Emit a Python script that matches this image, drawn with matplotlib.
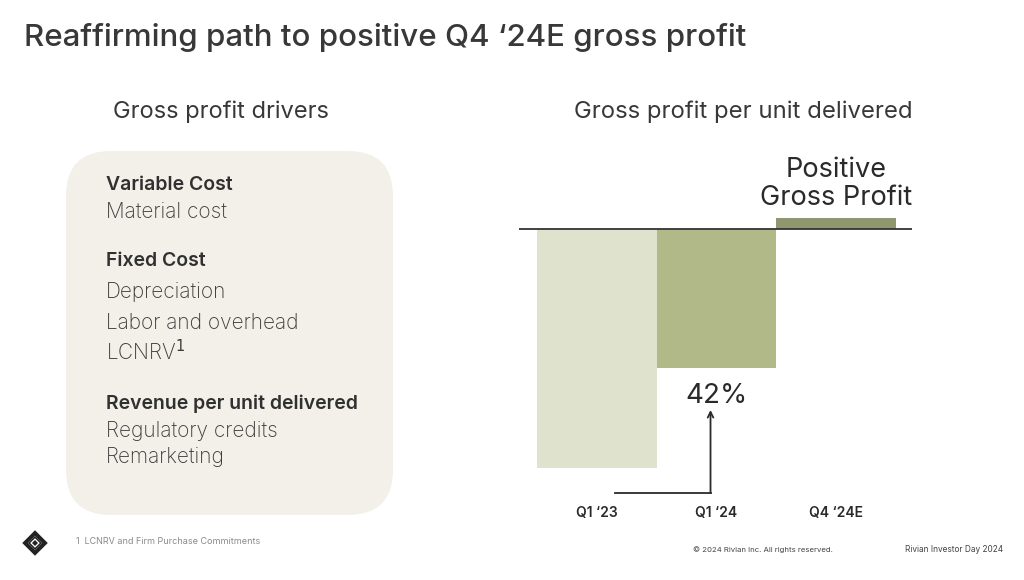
import matplotlib
matplotlib.use("Agg")
import matplotlib.pyplot as plt
from matplotlib.patches import FancyBboxPatch, Polygon

plt.rcParams['font.family'] = ['Inter', 'DejaVu Sans']

# ---- data ----
categories = ["Q1 \u201823", "Q1 \u201824", "Q4 \u201824E"]
gross_profit_per_unit = [-100.0, -58.0, 4.6]   # indexed, Q1'23 = -100
bar_colors = ["#dfe2cc", "#b2b989", "#8e9770"]

title = "Reaffirming path to positive Q4 \u201824E gross profit"
left_heading = "Gross profit drivers"
right_heading = "Gross profit per unit delivered"
driver_lines = [
    ("Variable Cost", True), ("Material cost", False),
    ("Fixed Cost", True), ("Depreciation", False), ("Labor and overhead", False),
    ("LCNRV$^{1}$", False),
    ("Revenue per unit delivered", True), ("Regulatory credits", False), ("Remarketing", False),
]
driver_y = [185, 212, 261, 292, 323, 352, 404, 431, 457]
positive_label = "Positive\nGross Profit"
footnote = "1  LCNRV and Firm Purchase Commitments"
copyright_txt = "\u00a9 2024 Rivian Inc. All rights reserved."
event_txt = "Rivian Investor Day 2024"

W, H = 1024, 580
fig = plt.figure(figsize=(W / 100, H / 100), dpi=100)
fig.patch.set_facecolor("white")

# overlay axes in pixel coordinates
ov = fig.add_axes([0, 0, 1, 1])
ov.set_xlim(0, W)
ov.set_ylim(H, 0)
ov.axis("off")

dark = "#383838"
ov.text(24, 38, title, fontsize=22.5, fontweight="medium", color=dark, va="center", ha="left")
ov.text(221, 112, left_heading, fontsize=17, color=dark, va="center", ha="center")
ov.text(743, 112, right_heading, fontsize=17.2, color=dark, va="center", ha="center")

box = FancyBboxPatch((66, 151), 327, 364, boxstyle="round,pad=0,rounding_size=45",
                     facecolor="#f2f0e9", edgecolor="none")
ov.add_patch(box)
for (txt, bold), y in zip(driver_lines, driver_y):
    ov.text(106, y, txt, fontsize=14 if bold else 15, color="#303030" if bold else "#3c3c3c",
            fontweight="semibold" if bold else "light", va="center", ha="left")

ov.text(76, 542, footnote, fontsize=6.5, color="#8a8a8a", va="center", ha="left")
ov.text(693, 550, copyright_txt, fontsize=5.6, color="#444444", va="center", ha="left")
ov.text(905, 550, event_txt, fontsize=6.0, color="#444444", va="center", ha="left")

# logo
cx, cy = 35, 543
outer = Polygon([(cx, cy - 10), (cx + 10, cy), (cx, cy + 10), (cx - 10, cy)], closed=True,
                facecolor="none", edgecolor="#222222", lw=2.8, joinstyle="miter")
mid = Polygon([(cx, cy - 6), (cx + 6, cy), (cx, cy + 6), (cx - 6, cy)], closed=True,
              facecolor="none", edgecolor="#222222", lw=1.2)
inner = Polygon([(cx, cy - 3), (cx + 3, cy), (cx, cy + 3), (cx - 3, cy)], closed=True,
                facecolor="#222222", edgecolor="none")
for p in (outer, mid, inner):
    ov.add_patch(p)

# chart axes: x 519..912 px, y 200..480 px
ax_left, ax_right, ax_top, ax_bot = 519, 912, 200, 480
ax = fig.add_axes([ax_left / W, 1 - ax_bot / H, (ax_right - ax_left) / W, (ax_bot - ax_top) / H])
ax.patch.set_alpha(0)
px_per_unit = 239 / 100.0
zero_px = 229
ax.set_ylim(-(ax_bot - zero_px) / px_per_unit, (zero_px - ax_top) / px_per_unit)
ax.set_xlim(-0.5 - 18 / 120, 2.5 + 16 / 120)
xs = list(range(len(categories)))
ax.bar(xs, gross_profit_per_unit, width=1.0, color=bar_colors, edgecolor="none", zorder=2)
ax.axhline(0, color="#333333", lw=1.3, zorder=3)
for s in ax.spines.values():
    s.set_visible(False)
ax.set_xticks([])
ax.set_yticks([])

# category labels at y=513 px
for x, c in zip(xs, categories):
    ax.annotate(c, xy=(x, H - 513), xycoords=("data", "figure pixels"),
                fontsize=10, fontweight="semibold",
                color="#2a2a2a", ha="center", va="center", annotation_clip=False)

# improvement label
improvement = (gross_profit_per_unit[1] - gross_profit_per_unit[0]) / -gross_profit_per_unit[0] * 100
ax.text(1, gross_profit_per_unit[1] - 6.5, f"{improvement:.0f}%", fontsize=20, color="#2a2a2a",
        ha="center", va="top")

# arrow from below Q1'23 to the 42%
y_low = -(493 - zero_px) / px_per_unit
y_tip = -(410 - zero_px) / px_per_unit
ax.plot([0.15, 0.95], [y_low, y_low], color="#2a2a2a", lw=1.3, clip_on=False)
ax.annotate("", xy=(0.95, y_tip), xytext=(0.95, y_low),
            arrowprops=dict(arrowstyle="->", color="#2a2a2a", lw=1.3, shrinkA=0, shrinkB=0,
                            mutation_scale=10), annotation_clip=False)

# positive label above Q4'24E bar
ax.text(2, gross_profit_per_unit[2] + 3.0, positive_label, fontsize=19.5, color="#2a2a2a",
        ha="center", va="bottom", linespacing=1.08)

fig.savefig("out.png", dpi=100, facecolor="white")
